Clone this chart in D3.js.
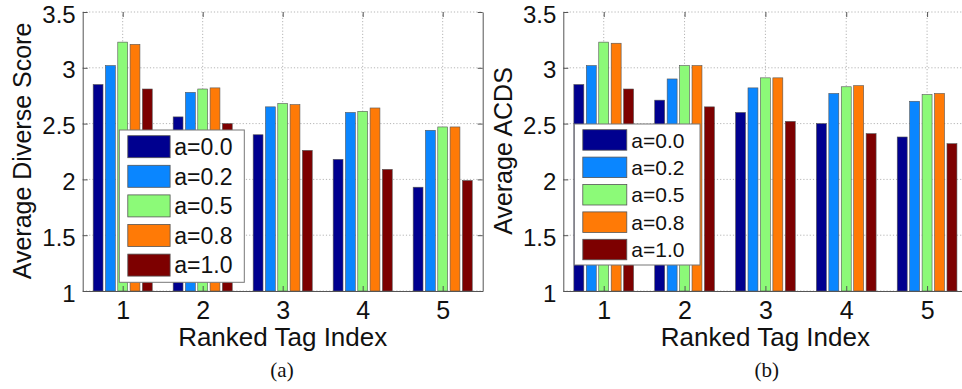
<!DOCTYPE html>
<html>
<head>
<meta charset="utf-8">
<script src="https://cdn.jsdelivr.net/npm/d3@7"></script>
<style>
  body { margin: 0; background: #fff; }
  svg { display: block; font-family: "Liberation Sans", Arial, sans-serif; }
</style>
</head>
<body>
<svg id="chart" width="962" height="389"></svg>
<script>
// data
const categories = [1, 2, 3, 4, 5];
const seriesLabels = ["a=0.0", "a=0.2", "a=0.5", "a=0.8", "a=1.0"];
const seriesColors = ["#00008f", "#0a86ff", "#8cfa78", "#ff7a06", "#7d0000"];
const yTicks = [1, 1.5, 2, 2.5, 3, 3.5];

// one row per series (a=0.0 ... a=1.0), one value per ranked tag
const diverseScores = [
  [2.85, 2.56, 2.40, 2.18, 1.93],
  [3.02, 2.78, 2.65, 2.60, 2.44],
  [3.23, 2.81, 2.68, 2.61, 2.47],
  [3.21, 2.82, 2.67, 2.64, 2.47],
  [2.81, 2.50, 2.26, 2.09, 1.99]
];
const acdsScores = [
  [2.85, 2.71, 2.60, 2.50, 2.38],
  [3.02, 2.90, 2.82, 2.77, 2.70],
  [3.23, 3.02, 2.91, 2.83, 2.76],
  [3.22, 3.02, 2.91, 2.84, 2.77],
  [2.81, 2.65, 2.52, 2.41, 2.32]
];

const svg = d3.select("#chart");

function drawPanel(p) {
  const x = d3.scaleLinear().domain([0.5, 5.5]).range([p.x0, p.x1]);
  const y = d3.scaleLinear().domain([1, 3.5]).range([291, 12]);
  // bars inside a group, matlab style
  const inner = d3.scaleBand().domain(d3.range(seriesLabels.length))
    .range([-0.3846, 0.3846]).paddingInner(0.2).paddingOuter(0.1);

  const g = svg.append("g");

  // grid
  g.selectAll(".gy").data(yTicks).join("line")
    .attr("x1", p.x0).attr("x2", p.x1)
    .attr("y1", d => y(d)).attr("y2", d => y(d))
    .attr("stroke", "#b5b5b5").attr("stroke-dasharray", "1.2,2");
  g.selectAll(".gx").data(categories).join("line")
    .attr("x1", d => x(d)).attr("x2", d => x(d))
    .attr("y1", y(1)).attr("y2", y(3.5))
    .attr("stroke", "#b5b5b5").attr("stroke-dasharray", "1.2,2");

  // bars
  p.data.forEach((vals, si) => {
    g.selectAll(null).data(vals).join("rect")
      .attr("x", (d, i) => x(categories[i] + inner(si)))
      .attr("width", x(inner.bandwidth()) - x(0))
      .attr("y", d => y(d))
      .attr("height", d => y(1) - y(d))
      .attr("fill", seriesColors[si])
      .attr("stroke", "#555").attr("stroke-width", 0.6);
  });

  // axes
  const ax = g.append("g").attr("transform", "translate(0,291)")
    .call(d3.axisBottom(x).tickValues(categories).tickFormat(d3.format("d"))
      .tickSizeInner(-5).tickSizeOuter(0).tickPadding(10));
  const axTop = g.append("g").attr("transform", "translate(0,12)")
    .call(d3.axisTop(x).tickValues(categories).tickFormat("")
      .tickSizeInner(-5).tickSizeOuter(0));
  axTop.select(".domain").remove();
  const ay = g.append("g").attr("transform", "translate(" + p.x0 + ",0)")
    .call(d3.axisLeft(y).tickValues(yTicks).tickFormat(d3.format("")).tickSizeInner(-5).tickSizeOuter(0).tickPadding(7));
  const ayR = g.append("g").attr("transform", "translate(" + p.x1 + ",0)")
    .call(d3.axisRight(y).tickValues(yTicks).tickFormat("").tickSizeInner(-5).tickSizeOuter(0));
  [ax, axTop, ay, ayR].forEach(a => {
    a.selectAll("line").attr("stroke", "#555");
    a.selectAll(".domain").attr("stroke", "#555");
  });
  ax.selectAll("text").attr("font-size", 25).attr("fill", "#111").attr("font-family", null);
  ay.selectAll("text").attr("font-size", 24).attr("fill", "#111").attr("font-family", null).attr("dy", "0.42em");

  // axis titles
  g.append("text")
    .attr("x", (p.x0 + p.x1) / 2).attr("y", 346)
    .attr("text-anchor", "middle").attr("font-size", 26).attr("fill", "#111")
    .text("Ranked Tag Index");
  g.append("text")
    .attr("transform", "translate(" + p.yLabelX + ",151) rotate(-90)")
    .attr("text-anchor", "middle").attr("font-size", 25).attr("fill", "#111")
    .text(p.yLabel);

  // caption
  g.append("text")
    .attr("x", p.captionX).attr("y", 377)
    .attr("text-anchor", "middle").attr("font-size", 21)
    .attr("font-family", "'Liberation Serif', 'Times New Roman', serif").attr("fill", "#111")
    .text(p.caption);

  // legend
  const L = p.legend;
  const lg = g.append("g");
  lg.append("rect").attr("x", L.x).attr("y", L.y).attr("width", L.w).attr("height", L.h)
    .attr("fill", "#fff").attr("stroke", "#777").attr("stroke-width", 1);
  seriesLabels.forEach((lab, i) => {
    const ry = L.y + L.pad + i * L.step;
    lg.append("rect").attr("x", L.x + 8.5).attr("y", ry)
      .attr("width", L.sw).attr("height", L.sh)
      .attr("fill", seriesColors[i]).attr("stroke", "#555").attr("stroke-width", 0.8);
    lg.append("text").attr("x", L.x + L.tx).attr("y", ry + L.sh / 2)
      .attr("dy", "0.36em").attr("font-size", L.fs).attr("fill", "#111").text(lab);
  });
}

drawPanel({
  x0: 82.7, x1: 482.7, data: diverseScores,
  yLabel: "Average Diverse Score", yLabelX: 31,
  caption: "(a)", captionX: 282,
  legend: { x: 119.3, y: 130, w: 125, h: 152.3, pad: 5.7, step: 29.6, sw: 42.3, sh: 22, tx: 55, fs: 23 }
});
drawPanel({
  x0: 563.3, x1: 967.5, data: acdsScores,
  yLabel: "Average ACDS", yLabelX: 512,
  caption: "(b)", captionX: 766.7,
  legend: { x: 574.3, y: 124, w: 125.7, h: 141, pad: 5.7, step: 27.4, sw: 44, sh: 20.5, tx: 57, fs: 21 }
});
</script>
</body>
</html>
